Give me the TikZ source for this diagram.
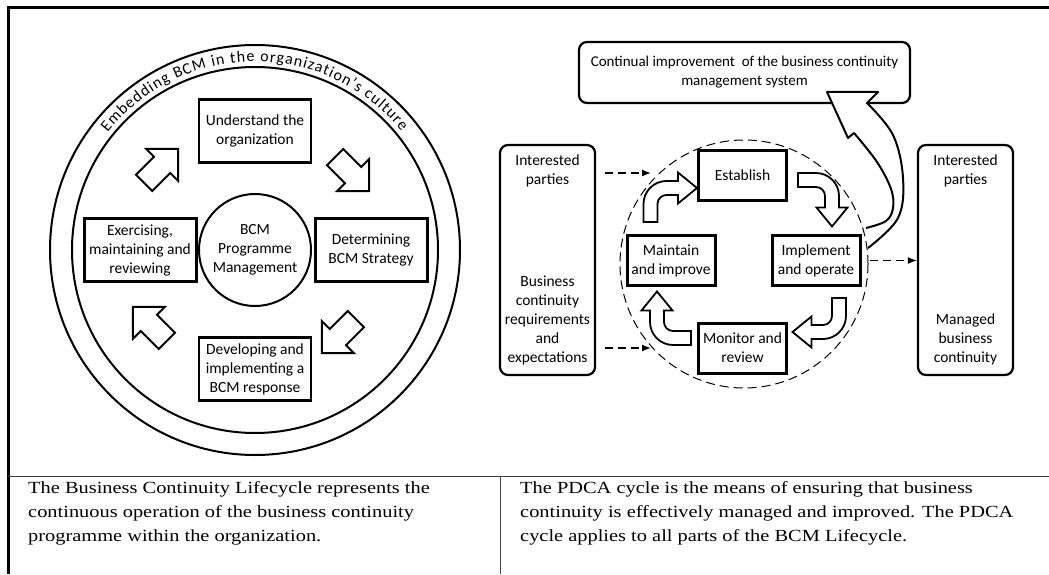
\documentclass[tikz,border=0pt]{standalone}
\usepackage{fontspec}
\setmainfont{Carlito}
\newfontfamily\serifbody[FakeStretch=1.2]{Liberation Serif}
\usetikzlibrary{positioning, arrows.meta, shapes.arrows, decorations.text, calc}

\newcommand{\boxfont}{\fontsize{15.5}{19}\selectfont}

\tikzset{
  stage/.style={draw, line width=2.4pt, minimum width=112pt, minimum height=63pt, align=center, inner sep=2pt, font=\boxfont},
  pdca/.style={draw, line width=3pt, minimum width=88pt, minimum height=50pt, align=center, inner sep=1pt, font=\boxfont},
  party/.style={draw, rounded corners=8pt, line width=2.2pt, font=\boxfont},
  flow/.style={line width=1.3pt, dash pattern=on 8pt off 5pt, -{Latex[length=9pt, width=7pt]}},
  fatarrow/.style={single arrow, draw, line width=2pt, minimum height=48pt, inner xsep=0pt, inner ysep=10.5pt, single arrow head extend=11pt},
  bendarrow/.pic={
    \draw[line width=1.8pt, fill=white] (-7,0) -- (-7,18) arc[start angle=180, end angle=90, radius=23] -- (27.5,41) -- (27.5,49.5) -- (46.5,34) -- (27.5,18.5) -- (27.5,27) -- (16,27) arc[start angle=90, end angle=180, radius=9] -- (7,0) -- cycle;
  }
}

\begin{document}
\begin{tikzpicture}[x=1pt, y=1pt, >=Latex]
  \useasboundingbox (0,0) rectangle (1049,574);

  % Frame
  \draw[line width=3pt] (8,0) -- (8,566) -- (1049,566);
  \draw[line width=1pt, black!75] (8,98) -- (1049,98);
  \draw[line width=1pt, black!75] (500,98) -- (500,0);

  % Lifecycle
  \coordinate (C) at (255,324);
  \draw[line width=2pt] (C) circle[radius=205];
  \draw[line width=2pt] (C) circle[radius=183];
  \path[decorate, decoration={text along path, text align=fit to path, text={|\fontsize{16}{16}\selectfont|Embedding BCM in the organization's culture}}] ($(C)+(141.4:188.5)$) arc[start angle=141.4, end angle=39, radius=188.5];

  \node[circle, draw, line width=2pt, minimum size=112pt, align=center, inner sep=0pt, font=\boxfont] (prog) at (C) {BCM\\Programme\\Management};
  \node[stage] (understand) at (255,443) {Understand the\\organization};
  \node[stage, line width=3pt] (strategy) at (371,324) {Determining\\BCM Strategy};
  \node[stage] (response) at (255,205) {Developing and\\implementing a\\BCM response};
  \node[stage, line width=3pt] (exercise) at (140,324) {Exercising,\\maintaining and\\reviewing};

  \node[fatarrow, rotate=-45] (a1) at ($(C)+(93,80)$) {};
  \node[fatarrow, rotate=-135] (a2) at ($(C)+(88,-82)$) {};
  \node[fatarrow, rotate=135] (a3) at ($(C)+(-101,-78)$) {};
  \node[fatarrow, rotate=45] (a4) at ($(C)+(-98,80)$) {};

  % PDCA
  \node[party, minimum width=331pt, minimum height=61pt, align=center, font=\fontsize{15}{19}\selectfont] (improve) at (744.5,501.5) {Continual improvement~ of the business continuity\\management system};

  \draw[line width=2pt, fill=white, line join=round] plot[smooth, tension=0.6] coordinates {(866,346) (886,353) (893,366) (891,385) (877,412) (854,441)} -- (848,436) -- (827,482) -- (878,482) -- (867,471) -- plot[smooth, tension=0.6] coordinates {(867,471) (893,439) (903,396) (898,356) (868,326)};

  \draw[line width=1pt, dash pattern=on 9pt off 5pt] (744,310) circle[radius=124];

  \node[pdca] (establish) at (742.5,398.5) {Establish};
  \node[pdca] (implement) at (816,313.5) {Implement\\and operate};
  \node[pdca] (monitor) at (742.5,226) {Monitor and\\review};
  \node[pdca] (maintain) at (671,313.5) {Maintain\\and improve};

  \pic at ($(maintain.north)+(-20.5,12)$) {bendarrow};
  \pic[rotate=-90] at ($(establish.east)+(10,-4.5)$) {bendarrow};
  \pic[rotate=180] at ($(implement.south)+(23,-11)$) {bendarrow};
  \pic[rotate=90] at ($(monitor.west)+(-6,10)$) {bendarrow};

  \node[party, minimum width=95pt, minimum height=230pt] (needs) at (547.5,314) {};
  \node[align=center, font=\boxfont] (needsA) at ([yshift=-27pt]needs.north) {Interested\\parties};
  \node[align=center, font=\boxfont] (needsB) at ([yshift=55.5pt]needs.south) {Business\\continuity\\requirements\\and\\expectations};

  \node[party, minimum width=95pt, minimum height=230pt] (result) at (965.5,314) {};
  \node[align=center, font=\boxfont] (resultA) at ([yshift=-27pt]result.north) {Interested\\parties};
  \node[align=center, font=\boxfont] (resultB) at ([yshift=37pt]result.south) {Managed\\business\\continuity};

  \coordinate (inA) at (651,401);
  \coordinate (inB) at (651,226);
  \draw[flow, shorten <=9pt] (needs.east |- inA) -- (inA);
  \draw[flow, shorten <=9pt] (needs.east |- inB) -- (inB);
  \draw[flow, shorten <=8pt] (implement.east) -- (result.west |- implement.east);

  % Captions
  \node[anchor=north west, inner sep=0pt, align=left, font=\serifbody\fontsize{17}{24}\selectfont] (lifetext) at (28,93) {The Business Continuity Lifecycle represents the\\continuous operation of the business continuity\\programme within the organization.};
  \node[anchor=north west, inner sep=0pt, align=left, font=\serifbody\fontsize{17}{24}\selectfont] (pdcatext) at (520,93) {The PDCA cycle is the means of ensuring that business\\continuity is effectively managed and improved. The PDCA\\cycle applies to all parts of the BCM Lifecycle.};
\end{tikzpicture}
\end{document}
